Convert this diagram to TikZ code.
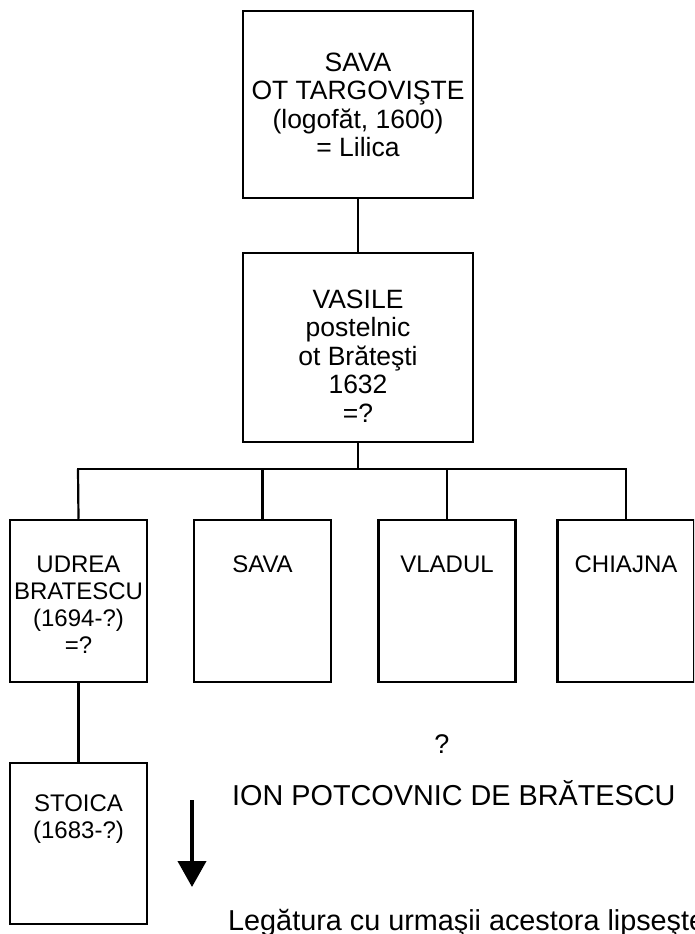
\documentclass[tikz,border=0pt]{standalone}
\usepackage{fontspec}
\setmainfont{Liberation Sans}
\usetikzlibrary{arrows.meta}
\begin{document}
\begin{tikzpicture}[x=1pt,y=-1pt,
  box/.style={draw,line width=2.5pt,minimum width=#1,inner sep=0pt},
  box/.default=137pt,
  txt/.style={inner sep=0pt,align=center,font=\fontsize{24}{27}\selectfont},
  bigtxt/.style={inner sep=0pt,align=center,font=\fontsize{26.5}{28.5}\selectfont},
  conn/.style={line width=2.2pt},
  big/.style={inner sep=0pt,anchor=base west,font=\fontsize{28.8}{32}\selectfont}]
\useasboundingbox (0,0) rectangle (694,934);
\clip (0,0) rectangle (694,934);
% boxes
\node[box=230pt,minimum height=187pt] (top) at (358,104.5) {};
\node[box=230pt,minimum height=189pt] (vas) at (358,347.5) {};
\node[box,minimum height=162pt] (udrea) at (78.5,601) {};
\node[box,minimum height=162pt] (sava) at (262.5,601) {};
\node[box,minimum height=162pt] (vladul) at (447,601) {};
\node[box,minimum height=162pt] (chiajna) at (626,601) {};
\node[box,minimum height=161pt] (stoica) at (78.5,843.5) {};
% texts
\node[bigtxt,anchor=north] (ttop) at (358,52.5) {SAVA\\OT TARGOVIŞTE\\(logofăt, 1600)\\= Lilica};
\node[bigtxt,anchor=north] (tvas) at (358,289.5) {VASILE\\postelnic\\ot Brăteşti\\1632\\=?};
\node[txt,anchor=north] (tudrea) at (78.5,555.8) {UDREA\\BRATESCU\\(1694-?)\\=?};
\node[txt,anchor=north] (tsava) at (262.5,555.8) {SAVA};
\node[txt,anchor=north] (tvladul) at (447,555.8) {VLADUL};
\node[txt,anchor=north] (tchiajna) at (626,555.8) {CHIAJNA};
\node[txt,anchor=north] (tstoica) at (78.5,795) {STOICA\\(1683-?)};
% connectors
\coordinate (bar) at (358,469);
\coordinate (barL) at (78,469);
\coordinate (barR) at (626,469);
\draw[conn] (top.south) -- (vas.north);
\draw[conn] (vas.south) -- (bar);
\draw[conn,line cap=rect] (barL) -- (barR);
\draw[conn] (barL) -- (udrea.north);
\draw[conn] (barL -| sava.north) -- (sava.north);
\draw[conn] (barL -| vladul.north) -- (vladul.north);
\draw[conn] (barR) -- (chiajna.north);
\draw[conn] (udrea.south) -- (stoica.north);
% arrow
\coordinate (a1) at (192,800);
\coordinate (a2) at (192,887);
\draw[line width=4pt,-{Triangle[width=28pt,length=26pt]}] (a1) -- (a2);
% free texts
\node[inner sep=0pt,anchor=base,font=\fontsize{27}{30}\selectfont] (q) at (442,753) {?};
\node[big] (ion) at (232,805) {ION POTCOVNIC DE BRĂTESCU};
\node[big] (leg) at (228,930) {Legătura cu urmaşii acestora lipseşte};
\end{tikzpicture}
\end{document}
